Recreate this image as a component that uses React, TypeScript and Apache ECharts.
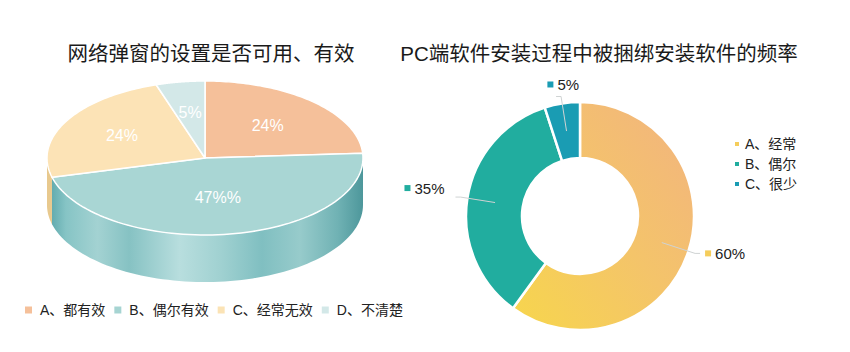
import React, { useEffect, useRef } from "react";
import * as echarts from "echarts";

// ---- data ----
const leftTitle = "网络弹窗的设置是否可用、有效";
const leftNames = ["A、都有效", "B、偶尔有效", "C、经常无效", "D、不清楚"];
const leftValues = [24, 47, 24, 5];
const leftLabels = ["24%", "47%%", "24%", "5%"];

const rightTitle = "PC端软件安装过程中被捆绑安装软件的频率";
const rightNames = ["A、经常", "B、偶尔", "C、很少"];
const rightValues = [60, 35, 5];
const rightLabels = ["60%", "35%", "5%"];

// ---- styles ----
const FONT = '"Liberation Sans", "Noto Sans CJK SC", sans-serif';
const topColors = ["#f5c09a", "#a9d6d4", "#fce3b6", "#d3e8e8"];
const legendLeftColors = ["#f5c09a", "#a6d4d2", "#fbe3b5", "#d3e8e8"];
const sideColorsFlat = ["#e0a47c", null, "#e8c98e", "#b3d0d0"];
const donutSolid = ["#f5cd5b", "#21ad9f", "#1a9cb3"];
const labelRadius = [0.58, 0.52, 0.6, 0.6];
const labelShift = [
  [0, 0],
  [-6, -9],
  [28, -12],
];

const PIE = { cx: 205, cy: 158, rx: 158, ry: 77, depth: 47 };

function ept(t: number, dy = 0): number[] {
  return [PIE.cx + PIE.rx * Math.cos(t), PIE.cy - PIE.ry * Math.sin(t) + dy];
}

function makeSlice(i: number) {
  const total = leftValues.reduce((a, b) => a + b, 0);
  return {
    type: "custom",
    name: leftNames[i],
    coordinateSystem: "none",
    silent: true,
    itemStyle: { color: legendLeftColors[i] },
    data: [[leftValues[i]]],
    renderItem: (params: any, api: any) => {
      const before = leftValues.slice(0, i).reduce((a, b) => a + b, 0);
      const v = api.value(0);
      const a0 = Math.PI / 2 - (before / total) * Math.PI * 2;
      const a1 = a0 - (v / total) * Math.PI * 2;
      const n = 80;
      const pts: number[][] = [[PIE.cx, PIE.cy]];
      for (let k = 0; k <= n; k++) pts.push(ept(a0 + ((a1 - a0) * k) / n));
      const children: any[] = [];
      const ranges = [
        [-Math.PI, 0],
        [-3 * Math.PI, -2 * Math.PI],
      ];
      ranges.forEach(([lo, hi]) => {
        const s = Math.max(a1, lo);
        const e = Math.min(a0, hi);
        if (s < e) {
          const sp: number[][] = [];
          for (let k = 0; k <= n; k++) sp.push(ept(e + ((s - e) * k) / n));
          for (let k = n; k >= 0; k--) sp.push(ept(e + ((s - e) * k) / n, PIE.depth));
          const fill =
            sideColorsFlat[i] ||
            new echarts.graphic.LinearGradient(
              PIE.cx - PIE.rx,
              0,
              PIE.cx + PIE.rx,
              0,
              [
                { offset: 0, color: "#57a4a8" },
                { offset: 0.06, color: "#86c4c5" },
                { offset: 0.16, color: "#a3d2d2" },
                { offset: 0.26, color: "#86c2c3" },
                { offset: 0.42, color: "#b8dede" },
                { offset: 0.55, color: "#a0d1d1" },
                { offset: 0.68, color: "#80bfc1" },
                { offset: 0.8, color: "#97cbcb" },
                { offset: 0.92, color: "#70b2b4" },
                { offset: 1, color: "#4d979b" },
              ],
              true
            );
          children.push({
            type: "polygon",
            shape: { points: sp },
            style: { fill, stroke: null },
            z2: 1,
          });
        }
      });
      children.push({
        type: "polygon",
        shape: { points: pts },
        style: { fill: topColors[i], stroke: "#ffffff", lineWidth: 1.5, lineJoin: "round" },
        z2: 5,
      });
      const am = (a0 + a1) / 2;
      const f = labelRadius[i];
      children.push({
        type: "text",
        style: {
          text: leftLabels[i],
          x: PIE.cx + PIE.rx * f * Math.cos(am),
          y: PIE.cy - PIE.ry * f * Math.sin(am),
          fill: "#ffffff",
          fontSize: 16,
          fontFamily: FONT,
          align: "center",
          verticalAlign: "middle",
        },
        z2: 10,
      });
      return { type: "group", children };
    },
  };
}

export default function App() {
  const ref = useRef<HTMLDivElement>(null);
  useEffect(() => {
    document.body.style.margin = "0";
    if (!ref.current) return;
    const chart = echarts.init(ref.current, undefined, { renderer: "svg" });
    const donutColors: any[] = [
      new echarts.graphic.LinearGradient(1, 0, 0, 1, [
        { offset: 0, color: "#f2b380" },
        { offset: 0.5, color: "#f4c46a" },
        { offset: 1, color: "#f7d64c" },
      ]),
      "#21ad9f",
      "#1a9cb3",
    ];
    const rich: any = {
      t: { fontSize: 15, color: "#222", fontFamily: FONT, padding: [0, 0, 0, 4] },
    };
    donutSolid.forEach((c, i) => {
      rich["s" + i] = { width: 6, height: 6, backgroundColor: c };
    });
    const titleStyle = { fontSize: 20.5, fontWeight: "normal", color: "#1a1a1a", fontFamily: FONT };
    const option: any = {
      animation: false,
      backgroundColor: "#ffffff",
      textStyle: { fontFamily: FONT },
      title: [
        { text: leftTitle, left: 206, top: 38, textAlign: "center", textStyle: titleStyle },
        { text: rightTitle, left: 594, top: 38, textAlign: "center", textStyle: titleStyle },
      ],
      legend: [
        {
          data: leftNames,
          left: 20,
          top: 298,
          icon: "rect",
          itemWidth: 7,
          itemHeight: 7,
          itemGap: 9,
          selectedMode: false,
          textStyle: { fontSize: 14, color: "#222", fontFamily: FONT, padding: [0, 0, 0, 3] },
        },
        {
          data: rightNames.map((n, i) => ({ name: n, itemStyle: { color: donutSolid[i] } })),
          orient: "vertical",
          left: 728,
          top: 132,
          icon: "rect",
          itemWidth: 6,
          itemHeight: 6,
          itemGap: 6,
          selectedMode: false,
          textStyle: { fontSize: 14, color: "#222", fontFamily: FONT },
        },
      ],
      series: [
        ...leftValues.map((_, i) => makeSlice(i)),
        {
          type: "pie",
          name: "donut",
          silent: true,
          center: [580, 216],
          radius: [58, 114],
          startAngle: 90,
          clockwise: true,
          itemStyle: { borderColor: "#ffffff", borderWidth: 2.5 },
          label: { show: false },
          labelLine: { show: false },
          data: rightValues.map((v, i) => ({
            name: rightNames[i],
            value: v,
            itemStyle: { color: donutColors[i] },
          })),
          z: 2,
        },
        {
          type: "pie",
          name: "labels",
          silent: true,
          center: [580, 216],
          radius: [0, 86],
          startAngle: 90,
          clockwise: true,
          itemStyle: { color: "rgba(0,0,0,0)", borderWidth: 0 },
          label: {
            show: true,
            position: "outside",
            formatter: (p: any) => `{s${p.dataIndex}|}{t|${rightLabels[p.dataIndex]}}`,
            rich,
          },
          labelLine: {
            show: true,
            length: 35,
            length2: 5,
            lineStyle: { color: "#cfd3d3", width: 1 },
          },
          labelLayout: (p: any) => ({ dx: labelShift[p.dataIndex][0], dy: labelShift[p.dataIndex][1] }),
          data: rightValues.map((v, i) => ({ name: rightNames[i], value: v })),
          z: 3,
        },
      ],
    };
    chart.setOption(option);
    return () => chart.dispose();
  }, []);
  return <div ref={ref} style={{ width: 850, height: 352 }} />;
}
